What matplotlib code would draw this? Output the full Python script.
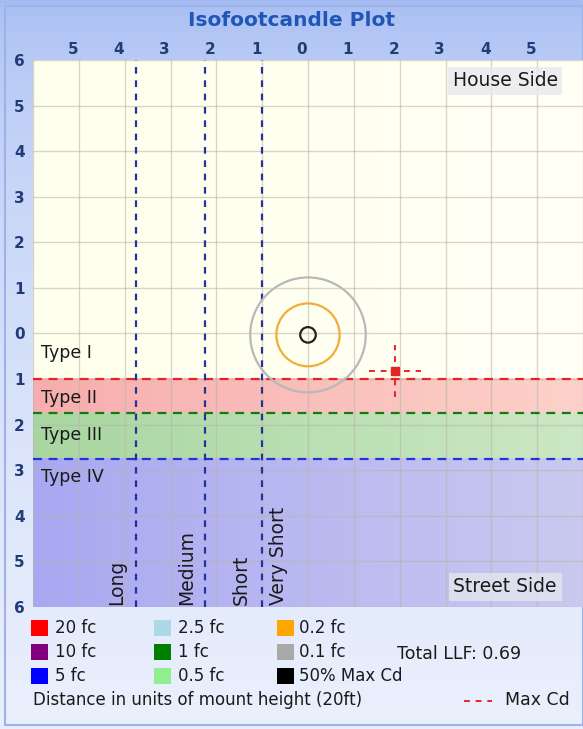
import numpy as np
import matplotlib.pyplot as plt
from matplotlib.patches import Rectangle, Circle
from matplotlib.lines import Line2D
import matplotlib.transforms as mtransforms

# data
x_ticks = [-5, -4, -3, -2, -1, 0, 1, 2, 3, 4, 5]
x_labels = ['5', '4', '3', '2', '1', '0', '1', '2', '3', '4', '5']
y_ticks = [6, 5, 4, 3, 2, 1, 0, -1, -2, -3, -4, -5, -6]
y_labels = ['6', '5', '4', '3', '2', '1', '0', '1', '2', '3', '4', '5', '6']

type_names = ['Type I', 'Type II', 'Type III', 'Type IV']
type_label_y = [-0.42, -1.41, -2.22, -3.14]
type_bounds = [-1.0, -1.75, -2.75]          # red, green, blue dashed lines
range_lines = [-1.0, -2.25, -3.75]
range_names = ['Very Short', 'Short', 'Medium', 'Long']
range_label_x = [-0.65, -1.46, -2.64, -4.17]

contour_names = ['50% Max Cd', '0.2 fc', '0.1 fc']
contour_radii = [0.17, 0.69, 1.26]
contour_center = (0.0, -0.03)
max_cd = (1.9, -0.83)
max_cd_arm = 0.57

legend_cols = [
    [('20 fc', '#FF0000'), ('10 fc', '#800080'), ('5 fc', '#0000FF')],
    [('2.5 fc', '#ADD8E6'), ('1 fc', '#008000'), ('0.5 fc', '#90EE90')],
    [('0.2 fc', '#FFA500'), ('0.1 fc', '#A9A9A9'), ('50% Max Cd', '#000000')],
]
total_llf = 0.69

W, H = 583, 729
fig = plt.figure(figsize=(W / 100, H / 100), dpi=100)

def fx(px):
    return px / W

def fy(py):
    return 1 - py / H

# figure background: blue gradient
bg = fig.add_axes([0, 0, 1, 1], zorder=-10)
grad = np.linspace(0, 1, 256).reshape(-1, 1)
top = np.array([0.64, 0.73, 0.95])
bot = np.array([0.92, 0.94, 0.99])
img = top + (bot - top) * grad[..., None] ** 0.5
img = np.repeat(img, 2, axis=1)
bg.imshow(img, aspect='auto', extent=[0, 1, 0, 1])
bg.add_patch(Rectangle((fx(5), fy(725)), fx(583) - fx(5), fy(6) - fy(725),
                       fill=False, ec='#9DB3E8', lw=1.5))
bg.set_xlim(0, 1)
bg.set_ylim(0, 1)
bg.axis('off')

fig.text(0.5, fy(20), 'Isofootcandle Plot', ha='center', va='center',
         fontsize=14.5, fontweight='bold', color='#1F56B8')

# plot area
ax = fig.add_axes([fx(33), fy(607), fx(583) - fx(33), fy(60) - fy(607)])
ax.set_facecolor('#FFFEF0')

def band(y0, y1, c_left, c_right):
    g = np.linspace(0, 1, 128).reshape(1, -1, 1)
    cl = np.array(c_left).reshape(1, 1, 3)
    cr = np.array(c_right).reshape(1, 1, 3)
    ax.imshow(cl + (cr - cl) * g, aspect='auto', extent=[-6, 6, y0, y1],
              zorder=0.5, interpolation='bilinear')

band(6, type_bounds[0], (1.0, 1.0, 0.93), (1.0, 1.0, 0.96))
band(type_bounds[0], type_bounds[1], (0.97, 0.68, 0.68), (0.99, 0.82, 0.79))
band(type_bounds[1], type_bounds[2], (0.66, 0.84, 0.63), (0.80, 0.91, 0.77))
band(type_bounds[2], -6, (0.66, 0.66, 0.95), (0.79, 0.79, 0.94))
ax.set_xlim(-6, 6)
ax.set_ylim(-6, 6)

for g in range(-6, 7):
    ax.axvline(g, color='#B8B4A8', lw=1, alpha=0.55, zorder=1)
    ax.axhline(g, color='#B8B4A8', lw=1, alpha=0.55, zorder=1)

for yb, c in zip(type_bounds, ['#E52525', '#127A12', '#2233DD']):
    ax.axhline(yb, color=c, lw=1.6, ls=(0, (4, 3)), zorder=3)
for xl in range_lines:
    ax.axvline(xl, color='#22339A', lw=1.6, ls=(0, (3, 3)), zorder=3)

for name, yy in zip(type_names, type_label_y):
    ax.text(-5.83, yy, name, ha='left', va='center', fontsize=12.5, color='#1A1A1A', zorder=4)

for name, xx in zip(range_names, range_label_x):
    ax.text(xx, -5.96, name, rotation=90, ha='center', va='bottom',
            fontsize=13.5, color='#1A1A1A', zorder=4)

for name, r, c in zip(contour_names, contour_radii, ['#222222', '#F2AC38', '#B8B8B8']):
    ax.add_patch(Circle(contour_center, r, fill=False, ec=c, lw=1.6, zorder=5))

# max candela marker
ax.plot([max_cd[0] - max_cd_arm, max_cd[0] + max_cd_arm], [max_cd[1]] * 2,
        color='#E52525', lw=1.4, ls=(0, (3, 3)), zorder=5)
ax.plot([max_cd[0]] * 2, [max_cd[1] - max_cd_arm, max_cd[1] + max_cd_arm],
        color='#E52525', lw=1.4, ls=(0, (3, 3)), zorder=5)
ax.plot(*max_cd, marker='s', ms=6, color='#E52525', zorder=6)

box = dict(boxstyle='square,pad=0.25', fc='#E6E8EE', ec='none', alpha=0.75)
ax.text(4.3, 5.54, 'House Side', ha='center', va='center', fontsize=13.5,
        color='#1A1A1A', bbox=box, zorder=6)
ax.text(4.3, -5.56, 'Street Side', ha='center', va='center', fontsize=13.5,
        color='#1A1A1A', bbox=box, zorder=6)

# axes ticks
ax.xaxis.tick_top()
ax.set_xticks(x_ticks)
ax.set_xticklabels(x_labels, fontweight='bold')
ax.set_yticks(y_ticks)
ax.set_yticklabels(y_labels, fontweight='bold')
ax.tick_params(length=0, labelsize=11, labelcolor='#233C78', pad=6)
ax.tick_params(axis='x', pad=2)
shift = mtransforms.ScaledTranslation(-6 / 100, 0, fig.dpi_scale_trans)
for lab in ax.get_xticklabels():
    lab.set_transform(lab.get_transform() + shift)
for s in ax.spines.values():
    s.set_visible(False)

# legend below the plot
col_sq_x = [31, 154, 277]
col_txt_x = [55, 178, 299]
row_y = [628, 652, 676]
for ci, col in enumerate(legend_cols):
    for ri, (name, c) in enumerate(col):
        fig.patches.append(Rectangle((fx(col_sq_x[ci]), fy(row_y[ri] + 8)), fx(17), 16 / H,
                                     transform=fig.transFigure, fc=c, ec='none'))
        fig.text(fx(col_txt_x[ci]), fy(row_y[ri]), name, ha='left', va='center',
                 fontsize=12, color='#1A1A1A')
fig.text(fx(397), fy(654), f'Total LLF: {total_llf:.2f}', ha='left', va='center',
         fontsize=12.5, color='#1A1A1A')
fig.text(fx(33), fy(700), 'Distance in units of mount height (20ft)', ha='left',
         va='center', fontsize=12, color='#1A1A1A')
fig.add_artist(Line2D([fx(464), fx(492)], [fy(701), fy(701)], color='#E52525',
                      lw=1.4, ls=(0, (3, 3))))
fig.text(fx(505), fy(700), 'Max Cd', ha='left', va='center', fontsize=12.5, color='#1A1A1A')

fig.savefig('out.png', dpi=100)
